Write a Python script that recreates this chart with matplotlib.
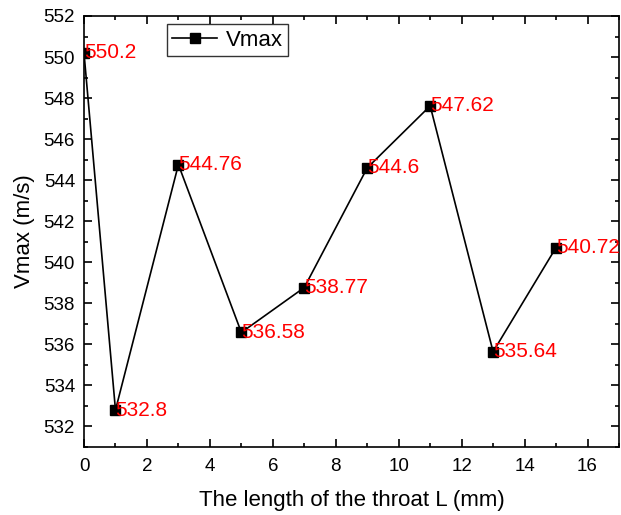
import matplotlib.pyplot as plt
from matplotlib.ticker import MultipleLocator

plt.rcParams['font.family'] = ['Liberation Sans', 'DejaVu Sans']

# throat length (mm) and max velocity (m/s)
throat_len = [0, 1, 3, 5, 7, 9, 11, 13, 15]
vmax = [550.2, 532.8, 544.76, 536.58, 538.77, 544.6, 547.62, 535.64, 540.72]
point_labels = ['550.2', '532.8', '544.76', '536.58', '538.77', '544.6', '547.62', '535.64', '540.72']

fig = plt.figure(figsize=(6.21, 5.15), dpi=100)
ax = fig.add_axes([84 / 621, 1 - 447 / 515, 535 / 621, 431 / 515])

ax.plot(throat_len, vmax, color='black', lw=1.2, marker='s', markersize=6.5,
        label='Vmax')
for x, y, s in zip(throat_len, vmax, point_labels):
    ax.text(x, y, s, color='red', fontsize=15, ha='left', va='center')

ax.set_xlim(0, 17)
ax.set_ylim(531, 552)
ax.xaxis.set_major_locator(MultipleLocator(2))
ax.xaxis.set_minor_locator(MultipleLocator(1))
ax.yaxis.set_major_locator(MultipleLocator(2))
ax.yaxis.set_minor_locator(MultipleLocator(1))
ax.tick_params(which='both', direction='in', top=True, right=True,
               labelsize=13.5, width=1.2)
ax.tick_params(which='major', length=6)
ax.tick_params(which='minor', length=3)
ax.tick_params(axis='x', pad=8)
ax.tick_params(axis='y', pad=6.5)
for sp in ax.spines.values():
    sp.set_linewidth(1.2)

ax.set_xlabel('The length of the throat L (mm)', fontsize=16, labelpad=11)
ax.set_ylabel('Vmax (m/s)', fontsize=16, labelpad=6)

leg = ax.legend(loc='upper left', bbox_to_anchor=(0.155, 0.981), fontsize=16,
                fancybox=False, edgecolor='black', handlelength=2.0,
                borderpad=0.25, handletextpad=0.4, borderaxespad=0)
leg.get_frame().set_linewidth(1.0)

fig.savefig('out.png', dpi=100)
